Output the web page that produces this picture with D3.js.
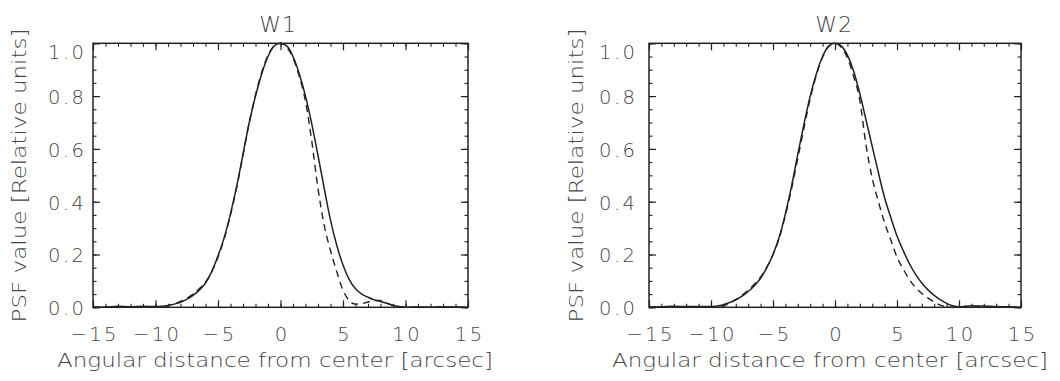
<!DOCTYPE html>
<html>
<head>
<meta charset="utf-8">
<script src="https://cdn.jsdelivr.net/npm/d3@7"></script>
<style>
  html, body { margin: 0; padding: 0; background: #fff; }
  svg { display: block; }
  text { font-family: "DejaVu Sans", "Liberation Sans", sans-serif; fill: #454545; font-weight: 300; }
</style>
</head>
<body>
<svg id="chart" width="1060" height="381"></svg>
<script>
// ---------------- data ----------------
const panelTitles = ["W1", "W2"];
const xTickValues = [-15, -10, -5, 0, 5, 10, 15];
const yTickValues = [0.0, 0.2, 0.4, 0.6, 0.8, 1.0];
const xLabel = "Angular distance from center [arcsec]";
const yLabel = "PSF value [Relative units]";

const offsets = [-15,-14,-13,-12,-11,-10,-9.5,-9,-8.5,-8,-7.5,-7,-6.5,-6,-5.5,-5,-4.5,-4,-3.5,-3,-2.5,-2,-1.5,-1,-0.5,0,
                 0.5,1,1.5,2,2.5,3,3.5,4,4.5,5,5.5,6,6.5,7,7.5,8,8.5,9,9.5,10,11,12,13,14,15];

const w1Measured = [0.000,0.001,0.004,0.002,0.004,0.003,0.004,0.007,0.012,0.019,0.030,0.045,0.065,0.092,0.135,0.195,0.265,0.355,0.460,0.580,0.700,0.800,0.885,0.950,0.990,1.000,
                    0.990,0.950,0.885,0.800,0.695,0.575,0.450,0.330,0.235,0.160,0.105,0.070,0.050,0.038,0.028,0.022,0.015,0.008,0.003,0.000,0.001,0.000,0.002,0.001,0.000];
const w1Model    = [0.000,0.000,0.000,0.000,0.000,0.000,0.002,0.006,0.013,0.022,0.034,0.050,0.070,0.095,0.135,0.190,0.260,0.350,0.455,0.575,0.700,0.805,0.890,0.955,0.990,1.000,
                    0.985,0.945,0.875,0.780,0.630,0.450,0.310,0.215,0.135,0.065,0.025,0.012,0.014,0.020,0.026,0.026,0.016,0.007,0.002,0.000,0.000,0.000,0.000,0.000,0.000];
const w2Measured = [0.000,0.002,0.004,0.003,0.003,0.003,0.005,0.010,0.018,0.028,0.042,0.060,0.082,0.110,0.150,0.200,0.265,0.355,0.460,0.580,0.695,0.800,0.885,0.950,0.990,1.000,
                    0.990,0.955,0.895,0.810,0.710,0.610,0.510,0.415,0.340,0.270,0.215,0.165,0.125,0.092,0.066,0.045,0.028,0.015,0.006,0.002,0.006,0.005,0.003,0.002,0.000];
const w2Model    = [0.000,0.000,0.000,0.000,0.000,0.000,0.002,0.006,0.015,0.030,0.045,0.065,0.088,0.115,0.152,0.200,0.262,0.348,0.450,0.565,0.680,0.790,0.880,0.948,0.988,1.000,
                    0.985,0.945,0.875,0.785,0.615,0.490,0.400,0.320,0.255,0.190,0.145,0.105,0.075,0.052,0.035,0.020,0.008,0.002,0.000,0.000,0.000,0.000,0.000,0.000,0.000];

const measuredSeries = [w1Measured, w2Measured];
const modelSeries = [w1Model, w2Model];

// ---------------- layout ----------------
const panels = [
  { left: 93,  right: 468,  ylabPad: 9,  ytitleX: 19,  titleX: 278, xtitleX: 275 },
  { left: 649, right: 1021, ylabPad: 14, ytitleX: 576, titleX: 834, xtitleX: 830 }
];
const plotTop = 43.3, plotBottom = 307.3;
const ink = "#222";

const svg = d3.select("#chart");
svg.append("rect").attr("width", 1060).attr("height", 381).attr("fill", "#fff");

panels.forEach((p, i) => {
  const x = d3.scaleLinear().domain([-15, 15]).range([p.left, p.right]);
  const y = d3.scaleLinear().domain([0, 1]).range([plotBottom, plotTop]);
  const g = svg.append("g");

  const minorX = d3.range(-15, 15.001, 1);
  const minorY = d3.range(0, 1.0001, 0.05);

  // bottom axis (major with labels)
  const bx = g.append("g").attr("transform", `translate(0,${plotBottom})`)
    .call(d3.axisBottom(x).tickValues(xTickValues).tickSizeInner(-7).tickSizeOuter(0).tickPadding(20)
      .tickFormat(d => d3.format("d")(d).replace("-", "\u2212")));
  bx.select(".domain").remove();
  bx.selectAll("line").attr("stroke", ink).attr("stroke-width", 1.2);
  bx.selectAll("text").attr("font-size", 19.5).attr("fill", "#454545")
    .style("letter-spacing", "2.5px").attr("dx", "1.2px");

  const bxm = g.append("g").attr("transform", `translate(0,${plotBottom})`)
    .call(d3.axisBottom(x).tickValues(minorX).tickSizeInner(-3.5).tickSizeOuter(0).tickFormat(""));
  bxm.select(".domain").remove();
  bxm.selectAll("line").attr("stroke", ink).attr("stroke-width", 1.1);

  // top axis (mirrored ticks)
  const tx = g.append("g").attr("transform", `translate(0,${plotTop})`)
    .call(d3.axisTop(x).tickValues(xTickValues).tickSizeInner(-7).tickSizeOuter(0).tickFormat(""));
  tx.select(".domain").remove();
  tx.selectAll("line").attr("stroke", ink).attr("stroke-width", 1.2);
  const txm = g.append("g").attr("transform", `translate(0,${plotTop})`)
    .call(d3.axisTop(x).tickValues(minorX).tickSizeInner(-3.5).tickSizeOuter(0).tickFormat(""));
  txm.select(".domain").remove();
  txm.selectAll("line").attr("stroke", ink).attr("stroke-width", 1.1);

  // left axis
  const ly = g.append("g").attr("transform", `translate(${p.left},0)`)
    .call(d3.axisLeft(y).tickValues(yTickValues).tickSizeInner(-7).tickSizeOuter(0).tickPadding(p.ylabPad - 2.5)
      .tickFormat(d3.format(".1f")));
  ly.select(".domain").remove();
  ly.selectAll("line").attr("stroke", ink).attr("stroke-width", 1.2);
  ly.selectAll("text").attr("font-size", 19.5).attr("fill", "#454545")
    .style("letter-spacing", "2.5px")
    .attr("dy", d => d === 1 ? "0.78em" : "0.38em");
  const lym = g.append("g").attr("transform", `translate(${p.left},0)`)
    .call(d3.axisLeft(y).tickValues(minorY).tickSizeInner(-3.5).tickSizeOuter(0).tickFormat(""));
  lym.select(".domain").remove();
  lym.selectAll("line").attr("stroke", ink).attr("stroke-width", 1.1);

  // right axis
  const ry = g.append("g").attr("transform", `translate(${p.right},0)`)
    .call(d3.axisRight(y).tickValues(yTickValues).tickSizeInner(-7).tickSizeOuter(0).tickFormat(""));
  ry.select(".domain").remove();
  ry.selectAll("line").attr("stroke", ink).attr("stroke-width", 1.2);
  const rym = g.append("g").attr("transform", `translate(${p.right},0)`)
    .call(d3.axisRight(y).tickValues(minorY).tickSizeInner(-3.5).tickSizeOuter(0).tickFormat(""));
  rym.select(".domain").remove();
  rym.selectAll("line").attr("stroke", ink).attr("stroke-width", 1.1);

  // box
  g.append("rect").attr("x", p.left).attr("y", plotTop)
    .attr("width", p.right - p.left).attr("height", plotBottom - plotTop)
    .attr("fill", "none").attr("stroke", ink).attr("stroke-width", 1.5);

  // curves
  const line = d3.line().x(d => x(d[0])).y(d => y(d[1])).curve(d3.curveMonotoneX);
  g.append("path").datum(offsets.map((o, k) => [o, modelSeries[i][k]]))
    .attr("d", line).attr("fill", "none").attr("stroke", ink).attr("stroke-width", 1.4)
    .attr("stroke-dasharray", "7,5");
  g.append("path").datum(offsets.map((o, k) => [o, measuredSeries[i][k]]))
    .attr("d", line).attr("fill", "none").attr("stroke", ink).attr("stroke-width", 1.5);

  // titles
  g.append("text").attr("x", p.titleX).attr("y", 32).attr("text-anchor", "middle")
    .attr("font-size", 22).style("letter-spacing", "1px").text(panelTitles[i]);
  g.append("text").attr("x", p.xtitleX).attr("y", 367).attr("text-anchor", "middle")
    .attr("font-size", 19.5).attr("textLength", 436).attr("lengthAdjust", "spacingAndGlyphs").text(xLabel);
  g.append("text").attr("transform", `translate(${p.ytitleX + 7},175.5) rotate(-90)`)
    .attr("text-anchor", "middle").attr("font-size", 19.5)
    .attr("textLength", 294).attr("lengthAdjust", "spacingAndGlyphs").text(yLabel);
});
</script>
</body>
</html>
